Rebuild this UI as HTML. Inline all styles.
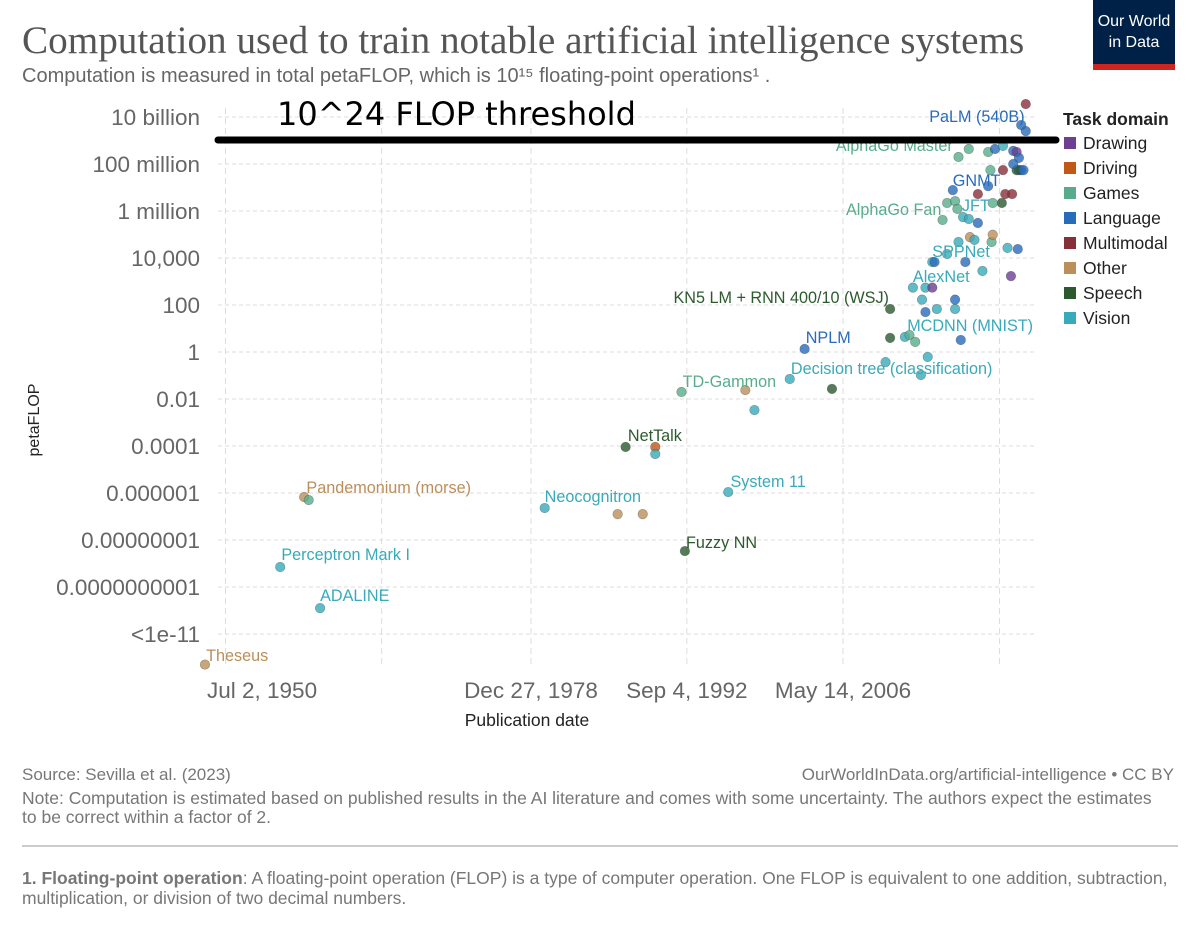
<!DOCTYPE html>
<html><head><meta charset="utf-8">
<style>
body{margin:0;background:#fff;width:1200px;height:922px;overflow:hidden;font-family:"Liberation Sans",sans-serif}
svg text{font-family:"Liberation Sans",sans-serif}
</style></head><body>
<svg id="c" width="1200" height="922" viewBox="0 0 1200 922" xmlns="http://www.w3.org/2000/svg">
<text x="22" y="53" font-size="39.2" fill="#555" style="font-family:'Liberation Serif',serif">Computation used to train notable artificial intelligence systems</text>
<text x="22" y="82" font-size="20" fill="#666">Computation is measured in total petaFLOP, which is 10¹⁵ floating-point operations¹ .</text>
<g>
<rect x="1093" y="0" width="82" height="70" fill="#002147"/>
<rect x="1093" y="64" width="82" height="6" fill="#ce261e"/>
<text x="1134" y="26" font-size="16" fill="#fff" text-anchor="middle">Our World</text>
<text x="1134" y="47" font-size="16" fill="#fff" text-anchor="middle">in Data</text>
</g>
<g id="grid"></g>
<g id="axes"></g>
<g id="marks"></g>
<g id="labels"></g>
<line x1="218" y1="140" x2="1056" y2="140" stroke="#000" stroke-width="7" stroke-linecap="round"/>
<text x="277" y="125" font-size="32" fill="#000" style="font-family:'DejaVu Sans',sans-serif">10^24 FLOP threshold</text>
<text transform="translate(39,420) rotate(-90)" font-size="16" fill="#222" text-anchor="middle">petaFLOP</text>
<text x="527" y="726" font-size="17.5" fill="#222" text-anchor="middle">Publication date</text>
<g id="legend"></g>
<text x="22" y="780" font-size="17" fill="#777">Source: Sevilla et al. (2023)</text>
<text x="1174" y="780" font-size="17" fill="#777" text-anchor="end">OurWorldInData.org/artificial-intelligence • CC BY</text>
<text x="22" y="804" font-size="17.5" fill="#777">Note: Computation is estimated based on published results in the AI literature and comes with some uncertainty. The authors expect the estimates</text>
<text x="22" y="823" font-size="17.5" fill="#777">to be correct within a factor of 2.</text>
<line x1="22" y1="846" x2="1178" y2="846" stroke="#999" stroke-width="1"/>
<text x="22" y="884" font-size="17.5" fill="#777"><tspan font-weight="bold">1. Floating-point operation</tspan>: A floating-point operation (FLOP) is a type of computer operation. One FLOP is equivalent to one addition, subtraction,</text>
<text x="22" y="904" font-size="17.5" fill="#777">multiplication, or division of two decimal numbers.</text>
</svg>
<script>
const domains=["Drawing","Driving","Games","Language","Multimodal","Other","Speech","Vision"];
const colors={Drawing:"#6d3e91",Driving:"#c05917",Games:"#58ac8c",Language:"#286bbb",Multimodal:"#883039",Other:"#bc8e5a",Speech:"#2c5a2e",Vision:"#38aaba"};
const yTickValues=[10,8,6,4,2,0,-2,-4,-6,-8,-10,-12];
const yTickLabels=["10 billion","100 million","1 million","10,000","100","1","0.01","0.0001","0.000001","0.00000001","0.0000000001","<1e-11"];
const xTickYears=[1950.5,1979.0,1992.67,2006.37];
const xTickLabels=["Jul 2, 1950","Dec 27, 1978","Sep 4, 1992","May 14, 2006"];
const xGridYears=[1952.2,1965.9,1979.0,1992.67,2006.37,2020.1];
// pixel-derived estimates: [year, log10 petaFLOP, domain]
const pointYears=[1950.4,1957.0,1960.5,1959.1,1959.5,1980.2,1986.6,1988.8,1987.3,1989.9,1989.9,1992.2,1997.8,1998.6,1996.3,1992.5,2001.7,2005.4,2003.0,2010.5,2010.5,2010.1,2011.8,2012.2,2012.7,2013.2,2013.8,2016.7,
2012.5,2013.6,2014.2,2013.3,2013.6,2014.6,2016.2,2016.2,2018.6,2021.1,
2014.2,2014.4,2017.1,2016.5,2017.5,2017.9,2019.4,2019.5,2020.8,2021.7,2015.5,
2015.1,2015.5,2016.2,2016.4,2016.9,2017.4,2018.2,2020.3,2019.5,
2016.0,2019.1,2020.4,2018.2,2020.6,2021.2,2021.8,2022.0,2021.6,2022.2,
2017.4,2016.5,2019.1,2019.7,2020.4,2021.3,2021.6,2021.8,2021.3,2019.3,2022.4,2022.0,2022.4];
const pointLogs=[-13.3,-9.15,-10.9,-6.17,-6.3,-6.64,-6.9,-6.9,-4.04,-4.04,-4.34,-1.7,-1.62,-2.47,-5.96,-8.47,-1.15,-1.57,0.13,1.83,0.6,-0.43,0.64,0.72,0.43,-0.98,-0.21,0.51,
2.74,2.74,2.74,2.23,1.70,1.83,2.23,1.83,3.45,3.23,
3.83,3.83,3.83,4.68,4.89,4.77,4.68,4.99,4.43,4.38,4.17,
5.62,6.34,6.42,6.09,5.74,5.66,5.49,6.34,6.34,
6.89,7.06,7.74,6.72,6.72,6.72,7.74,7.74,7.74,7.74,
8.64,8.30,8.51,8.64,8.77,8.56,8.51,8.26,8.00,7.74,9.40,9.66,10.55];
const pointDomains=["Other","Vision","Vision","Other","Games","Vision","Other","Other","Speech","Driving","Vision","Games","Other","Vision","Vision","Speech","Vision","Speech","Language","Speech","Speech","Vision","Vision","Games","Games","Vision","Vision","Language",
"Vision","Vision","Drawing","Vision","Language","Vision","Language","Vision","Vision","Drawing",
"Vision","Language","Language","Vision","Other","Vision","Games","Other","Vision","Language","Vision",
"Games","Games","Games","Games","Vision","Vision","Language","Speech","Games",
"Language","Language","Multimodal","Multimodal","Multimodal","Multimodal","Language","Language","Speech","Language",
"Games","Games","Games","Language","Vision","Language","Drawing","Language","Language","Games","Language","Language","Multimodal"];
const labelTexts=["PaLM (540B)","AlphaGo Master","GNMT","JFT","AlphaGo Fan","SPPNet","AlexNet","KN5 LM + RNN 400/10 (WSJ)","MCDNN (MNIST)","NPLM","Decision tree (classification)","TD-Gammon","NetTalk","System 11","Pandemonium (morse)","Neocognitron","Fuzzy NN","Perceptron Mark I","ADALINE","Theseus"];
const labelDomains=["Language","Games","Language","Vision","Games","Vision","Vision","Speech","Vision","Language","Vision","Games","Speech","Vision","Other","Vision","Speech","Vision","Vision","Other"];
const labelYears=[2022.3,2016.0,2016.0,2016.8,2015.0,2014.2,2012.5,2010.4,2012.0,2003.1,2001.8,1992.3,1987.5,1996.5,1959.3,1980.2,1992.6,1957.1,1960.5,1950.5];
const labelLogs=[9.79,8.55,7.06,6.0,5.83,4.04,2.98,2.09,0.89,0.38,-0.94,-1.49,-3.79,-5.75,-6.0,-6.38,-8.34,-8.85,-10.6,-13.15];
const labelAnchors=["end","end","start","start","end","start","start","end","start","start","start","start","start","start","start","start","start","start","start","start"];

const NS="http://www.w3.org/2000/svg";
const X=y=>531+(y-1979)*11.4;
const Y=l=>352-23.5*l;
function mk(tag,attrs,parent,txt){const e=document.createElementNS(NS,tag);for(const k in attrs)e.setAttribute(k,attrs[k]);if(txt!==undefined)e.textContent=txt;document.getElementById(parent).appendChild(e);return e;}
yTickValues.forEach((v,i)=>{
 const g=mk("line",{x1:218,x2:1035,y1:Y(v),y2:Y(v),stroke:"#ddd","stroke-dasharray":"4,3"},"grid");
 
 
 const t=mk("text",{x:200,y:Y(v)+8,"font-size":22.5,fill:"#666","text-anchor":"end"},"axes",yTickLabels[i]);
 
 
});
xGridYears.forEach(yr=>{
 const g=mk("line",{x1:X(yr),x2:X(yr),y1:108,y2:668,stroke:"#ddd","stroke-dasharray":"6,4"},"grid");
 
 
});
xTickYears.forEach((yr,i)=>{
 const t=mk("text",{x:i==0?207:X(yr),y:698,"font-size":22.5,fill:"#666","text-anchor":i==0?"start":"middle"},"axes",xTickLabels[i]);
 
 
});
pointYears.forEach((yr,i)=>{
 const c=mk("circle",{cx:X(yr),cy:Y(pointLogs[i]),r:4.8,fill:colors[pointDomains[i]],"fill-opacity":0.8,stroke:"#333","stroke-opacity":0.4,"stroke-width":0.6},"marks");
 
 
});
labelTexts.forEach((s,i)=>{
 const t=mk("text",{x:X(labelYears[i]),y:Y(labelLogs[i]),"font-size":16.2,fill:colors[labelDomains[i]],"text-anchor":labelAnchors[i]},"labels",s);
 
 
});
const lt=mk("text",{x:1063,y:125,"font-size":17.5,"font-weight":"bold",fill:"#222"},"legend","Task domain");


domains.forEach((d,i)=>{
 const r=mk("rect",{x:1064,y:137+25*i,width:12,height:12,fill:colors[d]},"legend");
 
 
 const t=mk("text",{x:1083,y:149+25*i,"font-size":17.5,fill:"#222"},"legend",d);
 
 
});
</script>
</body></html>
